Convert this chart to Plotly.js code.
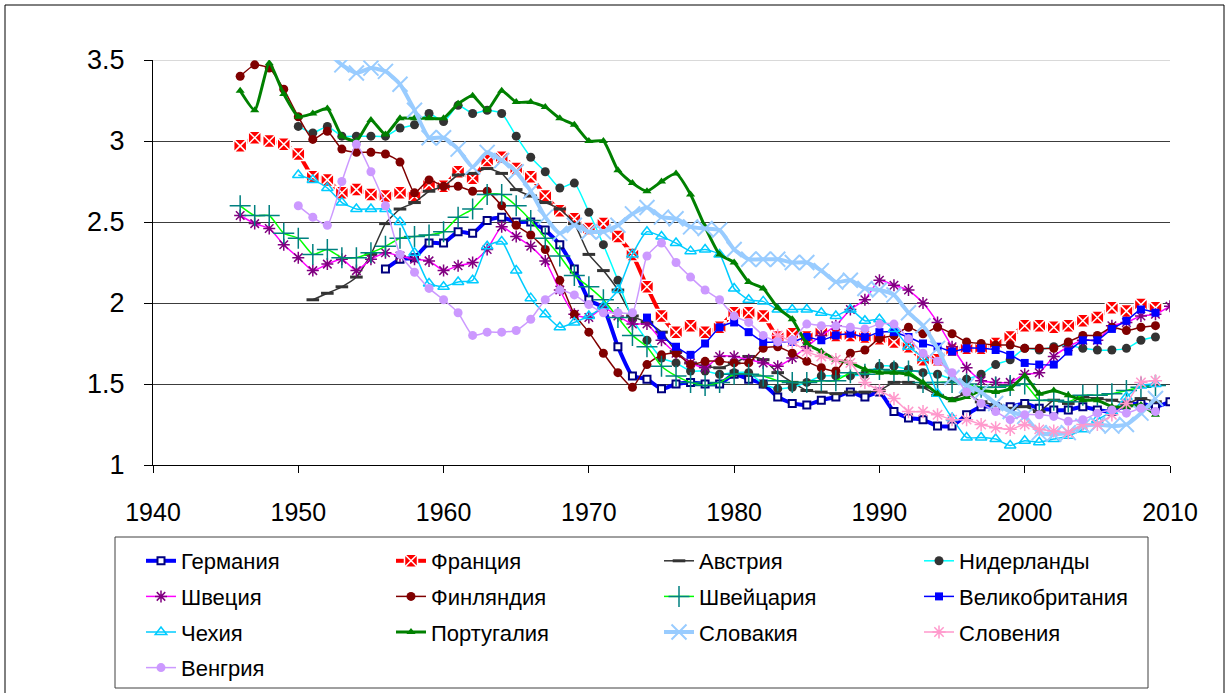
<!DOCTYPE html>
<html>
<head>
<meta charset="utf-8">
<script src="https://cdn.plot.ly/plotly-3.0.1.min.js"></script>
<style>html,body{margin:0;padding:0;background:#fff;}#chart{width:1228px;height:693px;}</style>
</head>
<body>
<div id="chart"></div>
<script>
// Years (category axis values)
const years = [1946,1947,1948,1949,1950,1951,1952,1953,1954,1955,1956,1957,1958,1959,1960,1961,1962,1963,1964,1965,1966,1967,1968,1969,1970,1971,1972,1973,1974,1975,1976,1977,1978,1979,1980,1981,1982,1983,1984,1985,1986,1987,1988,1989,1990,1991,1992,1993,1994,1995,1996,1997,1998,1999,2000,2001,2002,2003,2004,2005,2006,2007,2008,2009,2010];

// Series values (total fertility rate), each with its first year
const germanyStart = 1956;
const germany = [2.21,2.27,2.28,2.37,2.37,2.44,2.43,2.51,2.53,2.50,2.50,2.45,2.36,2.21,2.02,1.97,1.73,1.55,1.53,1.47,1.50,1.51,1.50,1.50,1.56,1.53,1.50,1.42,1.38,1.37,1.40,1.42,1.45,1.42,1.45,1.33,1.29,1.28,1.24,1.24,1.31,1.36,1.36,1.36,1.38,1.35,1.34,1.34,1.36,1.34,1.33,1.37,1.38,1.36,1.39];

const franceStart = 1946;
const france = [2.97,3.02,3.00,2.98,2.92,2.78,2.76,2.68,2.70,2.67,2.66,2.68,2.66,2.73,2.72,2.81,2.77,2.88,2.90,2.83,2.78,2.66,2.57,2.52,2.46,2.49,2.41,2.30,2.10,1.92,1.82,1.86,1.82,1.85,1.94,1.94,1.92,1.79,1.81,1.79,1.82,1.80,1.80,1.79,1.78,1.76,1.73,1.65,1.65,1.71,1.72,1.72,1.75,1.79,1.86,1.86,1.85,1.86,1.89,1.91,1.97,1.95,1.99,1.97];

const austriaStart = 1951;
const austria = [2.02,2.06,2.10,2.16,2.30,2.49,2.58,2.62,2.69,2.72,2.79,2.80,2.83,2.80,2.70,2.66,2.62,2.58,2.49,2.30,2.20,2.08,1.92,1.88,1.82,1.70,1.63,1.61,1.60,1.63,1.67,1.65,1.57,1.51,1.46,1.45,1.44,1.45,1.45,1.46,1.51,1.51,1.48,1.43,1.41,1.44,1.39,1.37,1.35,1.36,1.33,1.40,1.38,1.42,1.41,1.40,1.38,1.41,1.39];

const netherlandsStart = 1950;
const netherlands = [3.09,3.05,3.09,3.03,3.03,3.03,3.03,3.08,3.10,3.17,3.12,3.22,3.17,3.19,3.17,3.03,2.90,2.81,2.71,2.74,2.56,2.36,2.14,1.90,1.77,1.66,1.63,1.58,1.58,1.56,1.57,1.57,1.50,1.47,1.48,1.51,1.55,1.55,1.55,1.56,1.61,1.61,1.59,1.57,1.56,1.53,1.53,1.56,1.62,1.65,1.72,1.71,1.73,1.74,1.72,1.71,1.71,1.72,1.77,1.79];

const swedenStart = 1946;
const sweden = [2.54,2.49,2.46,2.36,2.28,2.20,2.24,2.27,2.20,2.27,2.31,2.29,2.27,2.26,2.20,2.23,2.25,2.33,2.47,2.41,2.35,2.26,2.08,1.93,1.91,1.97,1.92,1.87,1.87,1.77,1.69,1.63,1.60,1.67,1.67,1.65,1.63,1.61,1.66,1.73,1.80,1.86,1.96,2.02,2.14,2.11,2.08,2.00,1.88,1.73,1.60,1.52,1.51,1.51,1.56,1.57,1.67,1.73,1.77,1.77,1.86,1.88,1.92,1.93,1.98];

const finlandStart = 1946;
const finland = [3.40,3.47,3.45,3.32,3.15,3.01,3.06,2.95,2.93,2.93,2.92,2.87,2.68,2.76,2.72,2.72,2.69,2.69,2.60,2.48,2.42,2.33,2.14,1.93,1.82,1.69,1.57,1.48,1.62,1.68,1.69,1.62,1.64,1.64,1.63,1.63,1.72,1.73,1.69,1.64,1.60,1.58,1.69,1.71,1.78,1.80,1.85,1.81,1.85,1.81,1.76,1.75,1.74,1.74,1.72,1.72,1.72,1.76,1.80,1.80,1.85,1.83,1.85,1.86];

const switzerlandStart = 1946;
const switzerland = [2.60,2.54,2.54,2.43,2.40,2.30,2.33,2.28,2.28,2.31,2.35,2.40,2.41,2.42,2.44,2.53,2.58,2.67,2.67,2.60,2.51,2.40,2.29,2.17,2.10,2.02,1.91,1.80,1.73,1.61,1.55,1.51,1.49,1.51,1.56,1.56,1.55,1.52,1.51,1.51,1.52,1.52,1.57,1.56,1.59,1.58,1.58,1.51,1.51,1.51,1.50,1.48,1.48,1.49,1.50,1.40,1.40,1.39,1.43,1.43,1.44,1.46,1.48,1.49];

const ukStart = 1974;
const uk = [1.91,1.80,1.73,1.68,1.75,1.85,1.88,1.82,1.76,1.76,1.76,1.79,1.77,1.80,1.81,1.79,1.82,1.82,1.79,1.75,1.73,1.70,1.72,1.72,1.71,1.68,1.63,1.62,1.62,1.70,1.77,1.77,1.84,1.89,1.96,1.94];

const czechStart = 1950;
const czech = [2.79,2.76,2.71,2.62,2.58,2.58,2.58,2.50,2.31,2.12,2.10,2.13,2.14,2.35,2.38,2.20,2.03,1.93,1.85,1.88,1.92,1.98,2.08,2.30,2.44,2.41,2.37,2.32,2.33,2.30,2.09,2.02,2.01,1.96,1.96,1.96,1.94,1.92,1.96,1.89,1.90,1.84,1.73,1.66,1.44,1.29,1.17,1.17,1.16,1.12,1.15,1.14,1.16,1.18,1.22,1.28,1.33,1.42,1.49,1.50];

const portugalStart = 1946;
const portugal = [3.31,3.19,3.48,3.29,3.15,3.17,3.20,3.03,3.00,3.13,3.04,3.14,3.14,3.14,3.14,3.23,3.28,3.19,3.31,3.24,3.24,3.21,3.14,3.10,3.00,3.00,2.82,2.74,2.69,2.75,2.80,2.67,2.47,2.30,2.25,2.13,2.09,1.97,1.90,1.75,1.70,1.65,1.63,1.59,1.57,1.57,1.56,1.51,1.44,1.40,1.42,1.46,1.45,1.47,1.55,1.44,1.46,1.43,1.40,1.40,1.36,1.36,1.37,1.31];

const slovakiaStart = 1952;
const slovakia = [3.55,3.47,3.42,3.45,3.43,3.35,3.19,3.02,3.02,2.95,2.84,2.93,2.88,2.81,2.69,2.53,2.43,2.48,2.44,2.44,2.48,2.55,2.59,2.53,2.52,2.47,2.46,2.45,2.33,2.27,2.27,2.27,2.25,2.25,2.20,2.13,2.14,2.09,2.08,2.05,1.94,1.86,1.72,1.54,1.49,1.45,1.38,1.33,1.30,1.20,1.19,1.20,1.24,1.25,1.24,1.25,1.32,1.41];

const sloveniaStart = 1983;
const slovenia = [1.80,1.76,1.70,1.67,1.65,1.63,1.51,1.46,1.41,1.33,1.33,1.31,1.28,1.28,1.25,1.23,1.22,1.25,1.22,1.21,1.20,1.25,1.25,1.31,1.38,1.51,1.52];

const hungaryStart = 1950;
const hungary = [2.60,2.53,2.48,2.75,2.98,2.81,2.60,2.30,2.19,2.09,2.02,1.94,1.80,1.82,1.82,1.83,1.90,2.02,2.08,2.05,1.99,1.94,1.94,1.94,2.29,2.37,2.25,2.16,2.08,2.02,1.92,1.88,1.80,1.76,1.77,1.87,1.86,1.86,1.85,1.84,1.87,1.87,1.78,1.69,1.64,1.57,1.45,1.38,1.33,1.28,1.31,1.31,1.30,1.27,1.28,1.32,1.34,1.32,1.35,1.33];

const xTicks = [1940,1950,1960,1970,1980,1990,2000,2010];
const yTicks = [1,1.5,2,2.5,3,3.5];
const yTickText = ['1','1.5','2','2.5','3','3.5'];

function yrs(start, vals) {
  const i = years.indexOf(start);
  return years.slice(i, i + vals.length);
}

function tr(name, start, vals, line, marker, legend) {
  return {
    type: 'scatter', mode: 'lines+markers', name: name,
    x: yrs(start, vals), y: vals,
    line: Object.assign({shape: 'spline', smoothing: 0.5}, line),
    marker: marker, legend: legend, legendgroup: name,
    hoverinfo: 'name+x+y'
  };
}

const data = [
  tr('Германия', germanyStart, germany, {color:'#0000FF', width:4}, {symbol:'square', size:7, color:'#ffffff', line:{color:'#000080', width:2}}, 'legend'),
  tr('Франция', franceStart, france, {color:'#FF0000', width:4}, {symbol:'square-x', size:13, color:'#FF0000', line:{color:'#ffffff', width:1.5}}, 'legend2'),
  tr('Австрия', austriaStart, austria, {color:'#333333', width:1.5}, {symbol:'line-ew', size:9, color:'#333333', line:{color:'#333333', width:3}}, 'legend3'),
  tr('Нидерланды', netherlandsStart, netherlands, {color:'#00FFFF', width:1.5}, {symbol:'circle', size:9, color:'#333333'}, 'legend4'),
  tr('Швеция', swedenStart, sweden, {color:'#FF00FF', width:1.5}, {symbol:'asterisk', size:10, color:'#800080', line:{color:'#800080', width:1.5}}, 'legend'),
  tr('Финляндия', finlandStart, finland, {color:'#800000', width:1.5}, {symbol:'circle', size:9, color:'#800000'}, 'legend2'),
  tr('Швейцария', switzerlandStart, switzerland, {color:'#00FF00', width:1.5}, {symbol:'cross-thin', size:15, color:'#008080', line:{color:'#008080', width:1.5}}, 'legend3'),
  tr('Великобритания', ukStart, uk, {color:'#0000FF', width:1.5}, {symbol:'square', size:8, color:'#0000FF'}, 'legend4'),
  tr('Чехия', czechStart, czech, {color:'#00CCFF', width:1.5}, {symbol:'triangle-up-open', size:10, color:'#00CCFF', line:{color:'#00CCFF', width:1.5}}, 'legend'),
  tr('Португалия', portugalStart, portugal, {color:'#008000', width:3}, {symbol:'triangle-up', size:8, color:'#008000'}, 'legend2'),
  tr('Словакия', slovakiaStart, slovakia, {color:'#99CCFF', width:4}, {symbol:'x-thin', size:15, color:'#99CCFF', line:{color:'#99CCFF', width:2}}, 'legend3'),
  tr('Словения', sloveniaStart, slovenia, {color:'#FF99CC', width:1.5}, {symbol:'asterisk', size:11, color:'#FF99CC', line:{color:'#FF99CC', width:1.5}}, 'legend4'),
  tr('Венгрия', hungaryStart, hungary, {color:'#CC99FF', width:1.5}, {symbol:'circle', size:9, color:'#CC99FF'}, 'legend')
];

const W = 1228, H = 693, L = 153, R = 58, T = 60, B = 228;
const pw = W - L - R, ph = H - T - B;
const px2x = p => (p - L) / pw;
const py2y = p => (H - B - p) / ph;

const legFont = {family: 'Liberation Sans, Arial, sans-serif', size: 22, color: '#000'};
function leg(leftPx) {
  return {x: px2x(leftPx), y: py2y(540), xanchor: 'left', yanchor: 'top', orientation: 'v',
    bgcolor: 'rgba(0,0,0,0)', borderwidth: 0, font: legFont, tracegroupgap: 4, traceorder: 'grouped'};
}

const layout = {
  width: W, height: H,
  margin: {l: L, r: R, t: T, b: B, pad: 0, autoexpand: false},
  paper_bgcolor: '#ffffff', plot_bgcolor: '#ffffff',
  font: {family: 'Liberation Sans, Arial, sans-serif', color: '#000'},
  showlegend: true,
  xaxis: {range: [1940, 2010], tickvals: xTicks, ticktext: xTicks.map(String),
    showgrid: false, zeroline: false, showline: true, linecolor: '#000', linewidth: 1,
    ticks: 'outside', ticklen: 7, tickcolor: '#000', tickfont: {size: 25, color: '#000'},
    ticklabelstandoff: 18, automargin: false},
  yaxis: {range: [1, 3.5], tickvals: yTicks, ticktext: yTickText,
    showgrid: true, gridcolor: '#3c3c3c', gridwidth: 1, zeroline: false,
    showline: true, linecolor: '#000', linewidth: 1,
    ticks: 'outside', ticklen: 8, tickcolor: '#000', tickfont: {size: 27, color: '#000'},
    ticklabelstandoff: 14, automargin: false},
  legend: leg(141),
  legend2: leg(391),
  legend3: leg(659),
  legend4: leg(919),
  shapes: [
    {type: 'line', xref: 'paper', yref: 'y', x0: 0, x1: 1, y0: 3.5, y1: 3.5, layer: 'between', line: {color: '#d9d9d9', width: 2}},
    {type: 'rect', xref: 'paper', yref: 'paper', x0: px2x(115), x1: px2x(1148), y0: py2y(688), y1: py2y(537), line: {color: '#404040', width: 1}},
    {type: 'rect', xref: 'paper', yref: 'paper', x0: px2x(5), x1: px2x(1224), y0: py2y(705), y1: py2y(5), line: {color: '#000000', width: 1}}
  ]
};

Plotly.newPlot('chart', data, layout, {displayModeBar: false, responsive: false});
</script>
</body>
</html>
